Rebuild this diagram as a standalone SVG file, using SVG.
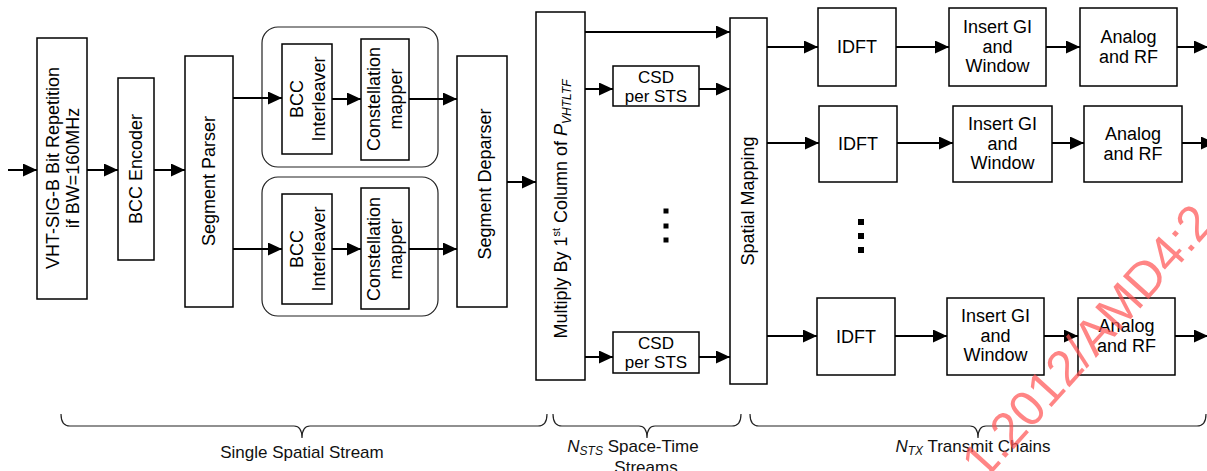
<svg xmlns="http://www.w3.org/2000/svg" width="1207" height="471" viewBox="0 0 1207 471">
<style>
.box{fill:#fff;stroke:#000;stroke-width:1.5}
.grp{fill:none;stroke:#222;stroke-width:1.2}
.t{font-family:"Liberation Sans",Arial,sans-serif;font-size:18px;fill:#000}
.s{font-size:17px}
.lb{font-family:"Liberation Sans",Arial,sans-serif;font-size:17px;fill:#111}
.c{stroke:#000;stroke-width:2;fill:none;marker-end:url(#ah)}
.br{stroke:#222;stroke-width:1.2;fill:none}
.wm{font-family:"Liberation Sans",Arial,sans-serif;font-size:50px;fill:#ff5252;opacity:0.7}
</style>
<defs>
<marker id="ah" markerUnits="userSpaceOnUse" markerWidth="15" markerHeight="13" refX="14" refY="6.5" orient="auto">
<path d="M0,0 L14,6.5 L0,13 z" fill="#000"/>
</marker>
</defs>
<rect width="1207" height="471" fill="#fff"/>

<g id="group-top"><rect class="grp" x="262" y="27" width="176" height="140" rx="16"/></g>
<g id="group-bottom"><rect class="grp" x="262" y="177" width="176" height="139" rx="16"/></g>

<g id="n-vhtsigb"><rect class="box" x="37" y="38" width="50" height="261"/>
<text class="t" text-anchor="middle" transform="translate(58.5,168) rotate(-90)">VHT-SIG-B Bit Repetition</text>
<text class="t" text-anchor="middle" transform="translate(78.5,168) rotate(-90)">if BW=160MHz</text></g>

<g id="n-bccenc"><rect class="box" x="118" y="78" width="36" height="182"/>
<text class="t" text-anchor="middle" transform="translate(141.5,169) rotate(-90)">BCC Encoder</text></g>

<g id="n-segparser"><rect class="box" x="185" y="56" width="48" height="251"/>
<text class="t" text-anchor="middle" transform="translate(215,181) rotate(-90)">Segment Parser</text></g>

<g id="n-int1"><rect class="box" x="282" y="44" width="50" height="110"/>
<text class="t" text-anchor="middle" transform="translate(303,99) rotate(-90)">BCC</text>
<text class="t" text-anchor="middle" transform="translate(325,99) rotate(-90)">Interleaver</text></g>

<g id="n-map1"><rect class="box" x="361" y="39" width="48" height="121"/>
<text class="t" text-anchor="middle" transform="translate(380,99) rotate(-90)">Constellation</text>
<text class="t" text-anchor="middle" transform="translate(402,99) rotate(-90)">mapper</text></g>

<g id="n-int2"><rect class="box" x="282" y="194" width="50" height="110"/>
<text class="t" text-anchor="middle" transform="translate(303,249) rotate(-90)">BCC</text>
<text class="t" text-anchor="middle" transform="translate(325,249) rotate(-90)">Interleaver</text></g>

<g id="n-map2"><rect class="box" x="361" y="188" width="48" height="121"/>
<text class="t" text-anchor="middle" transform="translate(380,249) rotate(-90)">Constellation</text>
<text class="t" text-anchor="middle" transform="translate(402,249) rotate(-90)">mapper</text></g>

<g id="n-segdeparser"><rect class="box" x="457" y="56" width="50" height="251"/>
<text class="t" text-anchor="middle" transform="translate(491,184) rotate(-90)">Segment Deparser</text></g>

<g id="n-multiply"><rect class="box" x="536" y="12" width="49" height="368"/>
<text class="t" text-anchor="middle" transform="translate(567,209) rotate(-90)" font-size="19">Multiply By 1<tspan font-size="11" dy="-7">st</tspan><tspan dy="7"> Column of </tspan><tspan font-style="italic">P</tspan><tspan font-style="italic" font-size="12" dy="4">VHTLTF</tspan></text></g>

<g id="n-csd1"><rect class="box" x="613" y="66" width="86" height="40"/>
<text class="t s" text-anchor="middle" x="656" y="83">CSD</text>
<text class="t s" text-anchor="middle" x="656" y="101.5">per STS</text></g>

<g id="n-csd2"><rect class="box" x="613" y="332" width="86" height="41"/>
<text class="t s" text-anchor="middle" x="656" y="349">CSD</text>
<text class="t s" text-anchor="middle" x="656" y="367.5">per STS</text></g>

<g id="dots-sts" fill="#000">
<rect x="663.5" y="208.5" width="5" height="5"/><rect x="663.5" y="223.5" width="5" height="5"/><rect x="663.5" y="237.5" width="5" height="5"/></g>

<g id="n-spatial"><rect class="box" x="730" y="18" width="37" height="366"/>
<text class="t" text-anchor="middle" transform="translate(754,201) rotate(-90)">Spatial Mapping</text></g>

<g id="n-idft1"><rect class="box" x="818" y="8" width="78" height="78"/>
<text class="t" text-anchor="middle" x="857" y="53">IDFT</text></g>
<g id="n-gi1"><rect class="box" x="949" y="8" width="97" height="78"/>
<text class="t" text-anchor="middle" x="997.5" y="33">Insert GI</text>
<text class="t" text-anchor="middle" x="997.5" y="52.5">and</text>
<text class="t" text-anchor="middle" x="997.5" y="72">Window</text></g>
<g id="n-rf1"><rect class="box" x="1080" y="8" width="97" height="78"/>
<text class="t" text-anchor="middle" x="1128.5" y="43">Analog</text>
<text class="t" text-anchor="middle" x="1128.5" y="63">and RF</text></g>

<g id="n-idft2"><rect class="box" x="819" y="106" width="78" height="76"/>
<text class="t" text-anchor="middle" x="858" y="150">IDFT</text></g>
<g id="n-gi2"><rect class="box" x="953" y="106" width="99" height="76"/>
<text class="t" text-anchor="middle" x="1002.5" y="130">Insert GI</text>
<text class="t" text-anchor="middle" x="1002.5" y="149.5">and</text>
<text class="t" text-anchor="middle" x="1002.5" y="169">Window</text></g>
<g id="n-rf2"><rect class="box" x="1084" y="106" width="98" height="76"/>
<text class="t" text-anchor="middle" x="1133" y="140">Analog</text>
<text class="t" text-anchor="middle" x="1133" y="160">and RF</text></g>

<g id="dots-tx" fill="#000">
<rect x="858" y="219" width="6" height="6"/><rect x="858" y="233" width="6" height="6"/><rect x="858" y="247" width="6" height="6"/></g>

<g id="n-idft3"><rect class="box" x="817" y="298" width="78" height="77"/>
<text class="t" text-anchor="middle" x="856" y="342.5">IDFT</text></g>
<g id="n-gi3"><rect class="box" x="947" y="298" width="97" height="77"/>
<text class="t" text-anchor="middle" x="995.5" y="322">Insert GI</text>
<text class="t" text-anchor="middle" x="995.5" y="341.5">and</text>
<text class="t" text-anchor="middle" x="995.5" y="361">Window</text></g>
<g id="n-rf3"><rect class="box" x="1078" y="298" width="97" height="77"/>
<text class="t" text-anchor="middle" x="1126.5" y="332">Analog</text>
<text class="t" text-anchor="middle" x="1126.5" y="352">and RF</text></g>

<g id="connectors">
<path class="c" d="M8,170 L37,170"/>
<path class="c" d="M87,170 L118,170"/>
<path class="c" d="M154,170 L185,170"/>
<path class="c" d="M233,98 L282,98"/>
<path class="c" d="M233,249 L282,249"/>
<path class="c" d="M332,99 L361,99"/>
<path class="c" d="M409,99 L457,99"/>
<path class="c" d="M332,249 L361,249"/>
<path class="c" d="M409,249 L457,249"/>
<path class="c" d="M507,182 L536,182"/>
<path class="c" d="M585,32 L730,32"/>
<path class="c" d="M585,89 L613,89"/>
<path class="c" d="M699,89 L730,89"/>
<path class="c" d="M585,357 L613,357"/>
<path class="c" d="M699,357 L730,357"/>
<path class="c" d="M767,47 L818,47"/>
<path class="c" d="M896,47 L949,47"/>
<path class="c" d="M1046,47 L1080,47"/>
<path class="c" d="M1177,47 L1208,47"/>
<path class="c" d="M767,143 L819,143"/>
<path class="c" d="M897,143 L953,143"/>
<path class="c" d="M1052,143 L1084,143"/>
<path class="c" d="M1182,143 L1215,143"/>
<path class="c" d="M767,336 L817,336"/>
<path class="c" d="M895,336 L947,336"/>
<path class="c" d="M1044,336 L1078,336"/>
<path class="c" d="M1175,336 L1208,336"/>
</g>

<g id="braces">
<path class="br" d="M61,414 Q61,426 70,426 L294,426 Q302,426 302,438 Q302,426 310,426 L538,426 Q547,426 547,414"/>
<path class="br" d="M553,414 Q553,426 562,426 L639,426 Q647,426 647,438 Q647,426 655,426 L732,426 Q741,426 741,414"/>
<path class="br" d="M750,414 Q750,426 759,426 L970,426 Q978,426 978,438 Q978,426 986,426 L1197,426 Q1206,426 1206,414"/>
</g>

<g id="labels">
<text class="lb" text-anchor="middle" x="302" y="458">Single Spatial Stream</text>
<text class="lb" text-anchor="middle" x="633" y="452"><tspan font-style="italic">N</tspan><tspan font-style="italic" font-size="12" dy="3">STS</tspan><tspan dy="-3"> Space-Time</tspan></text>
<text class="lb" text-anchor="middle" x="646" y="473">Streams</text>
<text class="lb" text-anchor="middle" x="973" y="452"><tspan font-style="italic">N</tspan><tspan font-style="italic" font-size="12" dy="3">TX</tspan><tspan dy="-3"> Transmit Chains</tspan></text>
</g>

<text class="wm" transform="translate(984,482) rotate(-48)">1.2012/AMD4:2</text>
</svg>
